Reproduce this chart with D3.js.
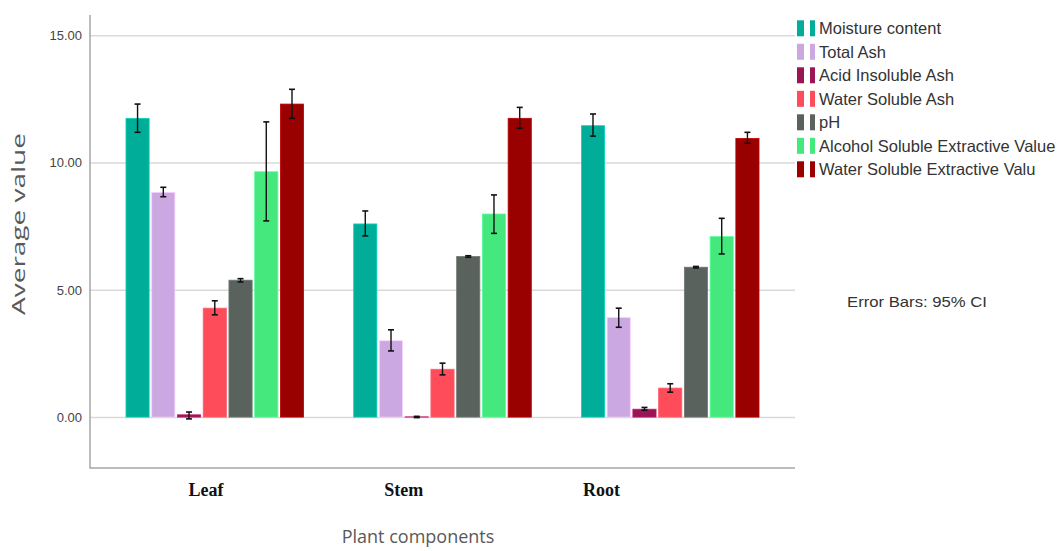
<!DOCTYPE html>
<html>
<head>
    <meta charset="utf-8">
    <title>Plant components</title>
    <script type="text/javascript" src="https://cdn.jsdelivr.net/npm/d3@7"></script>
    <style>
        body { margin: 0; background: #fff; }
        svg { display: block; }
    </style>
</head>
<body>
<script type="text/javascript">
    // data
    var categories = ["Leaf", "Stem", "Root"];
    var seriesNames = ["Moisture content", "Total Ash", "Acid Insoluble Ash",
        "Water Soluble Ash", "pH", "Alcohol Soluble Extractive Value",
        "Water Soluble Extractive Value"];
    var legendLabels = ["Moisture content", "Total Ash", "Acid Insoluble Ash",
        "Water Soluble Ash", "pH", "Alcohol Soluble Extractive Value",
        "Water Soluble Extractive Valu"];
    // mean values, one array per plant part, in series order
    var leafMeans = [11.74, 8.83, 0.09, 4.28, 5.38, 9.64, 12.30];
    var stemMeans = [7.59, 3.00, 0.01, 1.88, 6.31, 7.98, 11.74];
    var rootMeans = [11.45, 3.91, 0.31, 1.14, 5.89, 7.09, 10.95];
    // 95% CI, lower and upper
    var leafLow = [11.19, 8.66, -0.07, 4.02, 5.31, 7.71, 11.74];
    var leafHigh = [12.30, 9.03, 0.20, 4.57, 5.44, 11.60, 12.88];
    var stemLow = [7.12, 2.60, -0.02, 1.66, 6.28, 7.22, 11.35];
    var stemHigh = [8.10, 3.43, 0.03, 2.12, 6.34, 8.73, 12.17];
    var rootLow = [11.04, 3.53, 0.27, 0.98, 5.86, 6.41, 10.76];
    var rootHigh = [11.91, 4.28, 0.38, 1.31, 5.92, 7.81, 11.19];
    var yTicks = [0, 5, 10, 15];
    var colors = ["#00ad99", "#cba8e2", "#9b1556", "#ff4c5a", "#59625c", "#44e87c", "#990000"];

    var means = [leafMeans, stemMeans, rootMeans],
        lows = [leafLow, stemLow, rootLow],
        highs = [leafHigh, stemHigh, rootHigh];

    // flatten into rows for binding
    var rows = [];
    categories.forEach(function (c, i) {
        seriesNames.forEach(function (s, j) {
            rows.push({cat: c, series: s, idx: j,
                value: means[i][j], low: lows[i][j], high: highs[i][j]});
        });
    });

    var _width = 1059, _height = 551,
        _margins = {top: 15, left: 90, right: 264, bottom: 83};

    var svg = d3.select("body").append("svg")
            .attr("width", _width)
            .attr("height", _height);

    var x0 = d3.scaleBand()
            .domain(categories)
            .range([_margins.left, _width - _margins.right])
            .paddingInner(0.22)
            .paddingOuter(0.158);

    var x1 = d3.scaleBand()
            .domain(seriesNames)
            .range([0, x0.bandwidth()])
            .paddingInner(0.1);

    var y = d3.scaleLinear()
            .domain([-2, 15.8])
            .range([_height - _margins.bottom, _margins.top]);

    // gridlines + tick labels
    var yAxis = d3.axisLeft(y)
            .tickValues(yTicks)
            .tickSize(0)
            .tickPadding(8)
            .tickFormat(d3.format(".2f"));

    var yG = svg.append("g")
            .attr("transform", "translate(" + _margins.left + ",0)")
            .call(yAxis);
    yG.select(".domain").remove();
    yG.selectAll("text")
            .attr("font-family", "Liberation Sans, Arial, sans-serif")
            .attr("font-size", 13)
            .attr("fill", "#444");
    yG.selectAll("g.tick")
        .append("line")
            .attr("x1", 0)
            .attr("x2", _width - _margins.right - _margins.left)
            .attr("stroke", "#d9d9d9")
            .attr("stroke-width", 1.5);

    // axis frame (left + bottom)
    svg.append("path")
            .attr("d", "M" + _margins.left + "," + _margins.top +
                "V" + (_height - _margins.bottom) + "H" + (_width - _margins.right))
            .attr("fill", "none")
            .attr("stroke", "#a6a6a6")
            .attr("stroke-width", 1.5);

    // bars
    var groups = svg.append("g").selectAll("g.group")
            .data(categories)
            .enter().append("g")
            .attr("class", "group")
            .attr("transform", function (d) { return "translate(" + x0(d) + ",0)"; });

    groups.selectAll("rect")
            .data(function (c) { return rows.filter(function (r) { return r.cat === c; }); })
            .enter().append("rect")
            .attr("x", function (d) { return x1(d.series); })
            .attr("y", function (d) { return y(Math.max(0, d.value)); })
            .attr("width", x1.bandwidth())
            .attr("height", function (d) { return Math.abs(y(d.value) - y(0)); })
            .attr("fill", function (d) { return colors[d.idx]; })
            .attr("stroke", function (d) { return d3.color(colors[d.idx]).brighter(0.6); })
            .attr("stroke-width", 0.8);

    // error bars
    var err = groups.selectAll("g.err")
            .data(function (c) { return rows.filter(function (r) { return r.cat === c; }); })
            .enter().append("g")
            .attr("class", "err")
            .attr("transform", function (d) {
                return "translate(" + (x1(d.series) + x1.bandwidth() / 2) + ",0)";
            });
    err.append("line")
            .attr("y1", function (d) { return y(d.low); })
            .attr("y2", function (d) { return y(d.high); })
            .attr("stroke", "#111")
            .attr("stroke-width", 1.4);
    err.append("line")
            .attr("x1", -3).attr("x2", 3)
            .attr("y1", function (d) { return y(d.high); })
            .attr("y2", function (d) { return y(d.high); })
            .attr("stroke", "#111")
            .attr("stroke-width", 1.6);
    err.append("line")
            .attr("x1", -3).attr("x2", 3)
            .attr("y1", function (d) { return y(d.low); })
            .attr("y2", function (d) { return y(d.low); })
            .attr("stroke", "#111")
            .attr("stroke-width", 1.6);

    // category labels sit a little left of the bar groups in the original
    var labelX = d3.scalePoint()
            .domain(categories)
            .range([x0("Leaf") + 80, x0("Root") + 20]);
    svg.append("g").selectAll("text")
            .data(categories)
            .enter().append("text")
            .attr("x", function (d) { return labelX(d); })
            .attr("y", 496)
            .attr("text-anchor", "middle")
            .attr("font-family", "Liberation Serif, Times New Roman, serif")
            .attr("font-weight", "bold")
            .attr("font-size", 18)
            .attr("fill", "#111")
            .text(function (d) { return d; });

    // axis titles
    svg.append("text")
            .attr("x", 418)
            .attr("y", 543)
            .attr("text-anchor", "middle")
            .attr("font-family", "Open Sans, sans-serif")
            .attr("font-size", 18)
            .attr("fill", "#595959")
            .text("Plant components");

    svg.append("text")
            .attr("transform", "translate(25,224) rotate(-90)")
            .attr("text-anchor", "middle")
            .attr("font-family", "Open Sans, sans-serif")
            .attr("font-size", 18)
            .attr("fill", "#595959")
            .attr("textLength", 182)
            .attr("lengthAdjust", "spacingAndGlyphs")
            .text("Average value");

    // legend with the double swatch
    var legend = svg.append("g").selectAll("g.leg")
            .data(legendLabels)
            .enter().append("g")
            .attr("class", "leg")
            .attr("transform", function (d, i) { return "translate(797," + (28.3 + i * 23.5) + ")"; });
    legend.append("rect")
            .attr("x", 0).attr("y", -8)
            .attr("width", 7).attr("height", 16)
            .attr("fill", function (d, i) { return colors[i]; });
    legend.append("rect")
            .attr("x", 13).attr("y", -8)
            .attr("width", 5).attr("height", 16)
            .attr("fill", function (d, i) { return colors[i]; });
    legend.append("text")
            .attr("x", 22)
            .attr("y", 6)
            .attr("font-family", "Liberation Sans, Arial, sans-serif")
            .attr("font-size", 16.5)
            .attr("fill", "#333")
            .text(function (d) { return d; });

    svg.append("text")
            .attr("x", 847)
            .attr("y", 307)
            .attr("font-family", "Liberation Sans, Arial, sans-serif")
            .attr("font-size", 15)
            .attr("fill", "#333")
            .attr("textLength", 140)
            .attr("lengthAdjust", "spacingAndGlyphs")
            .text("Error Bars: 95% CI");
</script>
</body>
</html>
